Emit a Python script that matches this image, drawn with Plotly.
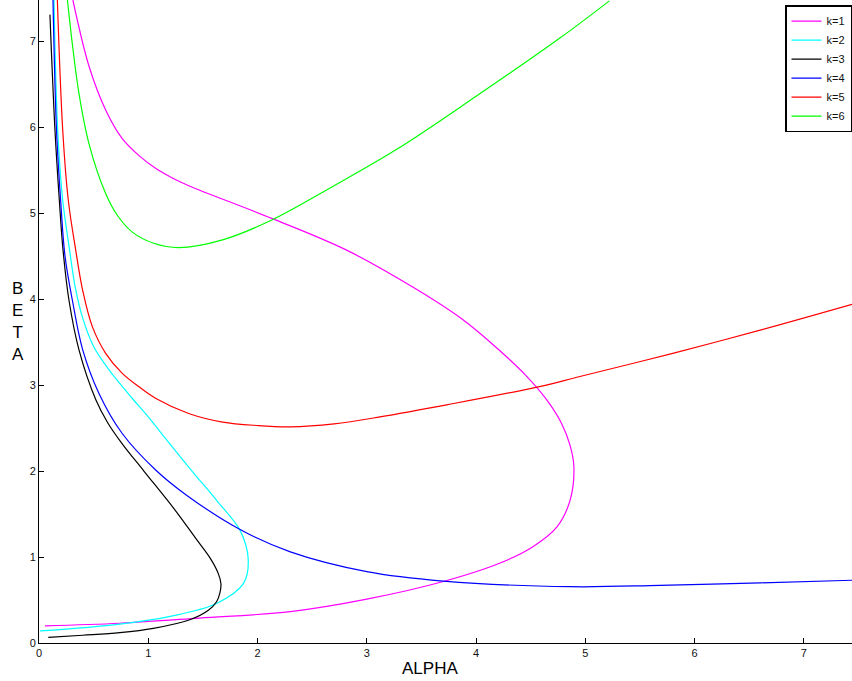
import plotly.graph_objects as go

# ---- data ----
k_labels = ["k=1", "k=2", "k=3", "k=4", "k=5", "k=6"]
colors = ["#ff00ff", "#00ffff", "#000000", "#0000ff", "#ff0000", "#00ff00"]

alpha_k1 = [0.31, 0.46, 0.61, 0.76, 0.915, 1.07, 1.22, 1.37, 2.13, 2.815, 3.42, 3.88, 4.20, 4.45, 4.64, 4.78, 4.86, 4.895, 4.86, 4.74, 4.52, 4.22, 3.70, 3.00, 2.30, 1.47, 0.74, 0.055]
beta_k1 = [7.48, 6.70, 6.20, 5.87, 5.67, 5.52, 5.41, 5.32, 4.94, 4.57, 4.14, 3.76, 3.42, 3.12, 2.84, 2.56, 2.30, 2.05, 1.66, 1.35, 1.12, 0.93, 0.715, 0.51, 0.365, 0.29, 0.23, 0.20]

alpha_k2 = [0.137, 0.171, 0.217, 0.28, 0.33, 0.40, 0.50, 0.60, 0.70, 0.85, 1.0, 1.17, 1.40, 1.625, 1.84, 1.915, 1.87, 1.625, 1.20, 0.74, 0.01]
beta_k2 = [7.48, 5.97, 5.15, 4.57, 4.15, 3.78, 3.45, 3.25, 3.08, 2.85, 2.63, 2.36, 2.0, 1.66, 1.31, 0.965, 0.69, 0.46, 0.31, 0.22, 0.14]

alpha_k3 = [0.10, 0.146, 0.186, 0.22, 0.274, 0.366, 0.52, 0.63, 0.76, 0.96, 1.24, 1.45, 1.565, 1.64, 1.665, 1.655, 1.625, 1.55, 1.38, 1.046, 0.74, 0.40, 0.085]
beta_k3 = [7.31, 5.97, 5.15, 4.57, 3.99, 3.41, 2.83, 2.56, 2.32, 2.0, 1.555, 1.19, 0.99, 0.81, 0.69, 0.58, 0.48, 0.38, 0.27, 0.17, 0.12, 0.09, 0.066]

alpha_k4 = [0.128, 0.16, 0.198, 0.238, 0.305, 0.40, 0.55, 0.76, 1.07, 1.35, 1.84, 2.30, 3.00, 3.70, 4.86, 5.68, 6.60, 7.44]
beta_k4 = [7.48, 5.97, 5.15, 4.5, 3.99, 3.41, 2.90, 2.44, 2.01, 1.72, 1.32, 1.06, 0.83, 0.72, 0.655, 0.67, 0.70, 0.73]

alpha_k5 = [0.168, 0.217, 0.268, 0.336, 0.40, 0.488, 0.61, 0.76, 0.915, 1.07, 1.37, 1.68, 2.0, 2.3, 2.7, 3.12, 3.73, 4.57, 4.95, 5.8, 6.60, 7.44]
beta_k5 = [7.48, 5.97, 5.15, 4.57, 4.10, 3.68, 3.37, 3.14, 2.98, 2.845, 2.67, 2.57, 2.53, 2.515, 2.55, 2.63, 2.77, 2.98, 3.10, 3.37, 3.64, 3.94]

alpha_k6 = [0.26, 0.305, 0.366, 0.457, 0.61, 0.72, 0.854, 1.05, 1.28, 1.68, 2.13, 2.7, 3.27, 4.0, 4.77, 5.22]
beta_k6 = [7.48, 6.97, 6.39, 5.81, 5.23, 4.97, 4.78, 4.65, 4.60, 4.69, 4.92, 5.32, 5.74, 6.36, 7.04, 7.47]

x_ticks = [0, 1, 2, 3, 4, 5, 6, 7]
y_ticks = [0, 1, 2, 3, 4, 5, 6, 7]

alphas = [alpha_k1, alpha_k2, alpha_k3, alpha_k4, alpha_k5, alpha_k6]
betas = [beta_k1, beta_k2, beta_k3, beta_k4, beta_k5, beta_k6]

FONT = "Liberation Sans, Arial, Helvetica, sans-serif"

fig = go.Figure()
for a, b, name, c in zip(alphas, betas, k_labels, colors):
    fig.add_trace(go.Scatter(
        x=a, y=b, mode="lines", name=name,
        line=dict(color=c, width=1.2, shape="spline", smoothing=1.0),
    ))

axis_common = dict(
    showgrid=False, zeroline=False, showline=True, linecolor="black", linewidth=1,
    ticks="inside", ticklen=5, tickwidth=1, tickcolor="black", mirror=False,
    tickfont=dict(family=FONT, size=11, color="#111111"),
)

fig.update_layout(
    width=852, height=681,
    margin=dict(l=39, r=0, t=0, b=38),
    paper_bgcolor="white", plot_bgcolor="white",
    font=dict(family=FONT, color="black"),
    xaxis=dict(range=[0, 7.44], tickvals=x_ticks, **axis_common),
    yaxis=dict(range=[0, 7.48], tickvals=y_ticks, **axis_common),
    showlegend=True,
    legend=dict(
        x=1.0, y=0.992, xanchor="right", yanchor="top",
        bgcolor="white", bordercolor="black", borderwidth=1.5,
        font=dict(family=FONT, size=11, color="#111111"),
        itemwidth=30, tracegroupgap=0,
    ),
    annotations=[
        dict(text="ALPHA", xref="paper", yref="paper", x=0.481, y=-0.039,
             xanchor="center", yanchor="middle", showarrow=False,
             font=dict(family=FONT, size=17, color="black")),
        dict(text="B<br>E<br>T<br>A", xref="paper", yref="paper", x=-0.026, y=0.50,
             xanchor="center", yanchor="middle", showarrow=False,
             font=dict(family=FONT, size=17, color="black")),
    ],
)

fig.write_html("out.html")
